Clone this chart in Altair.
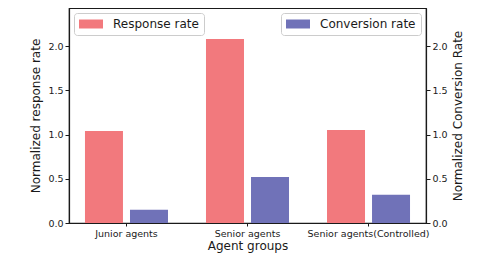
import altair as alt
import pandas as pd

groups = ["Junior agents", "Senior agents", "Senior agents(Controlled)"]
response_rate = [1.04, 2.08, 1.05]
conversion_rate = [0.15, 0.52, 0.32]
series = ["Response rate", "Conversion rate"]
colors = ["#F2797D", "#7072B8"]
y_ticks = [0.0, 0.5, 1.0, 1.5, 2.0]

df = pd.DataFrame({
    "group": groups * 2,
    "series": [series[0]] * 3 + [series[1]] * 3,
    "value": response_rate + conversion_rate,
})

FONT = "DejaVu Sans"
INK = "#1a1a1a"
RECT = "M-2,-0.75H2V0.75H-2Z"

x = alt.X("group:N", sort=groups,
          scale=alt.Scale(paddingInner=0.314, paddingOuter=0.132),
          axis=alt.Axis(title="Agent groups", labelAngle=0, tickSize=3,
                        labelPadding=2, titlePadding=3))
xoff = alt.XOffset("series:N",
                   scale=alt.Scale(domain=series, paddingInner=0.156, paddingOuter=0))


def layer(i, orient, legend_orient, title, baseline):
    return alt.Chart(df).transform_filter(
        alt.datum.series == series[i]
    ).mark_bar().encode(
        x=x,
        xOffset=xoff,
        y=alt.Y("value:Q",
                scale=alt.Scale(domain=[0, 2.43], nice=False, zero=True),
                axis=alt.Axis(title=title, orient=orient, values=y_ticks,
                              format=".1f", tickSize=4, labelPadding=2,
                              titlePadding=5, titleAngle=270,
                              titleBaseline=baseline)),
        color=alt.Color("series:N",
                        scale=alt.Scale(domain=[series[i]], range=[colors[i]]),
                        legend=alt.Legend(orient=legend_orient, title=None,
                                          symbolType=RECT, symbolSize=144,
                                          symbolOffset=6,
                                          labelFontSize=12, labelFont=FONT,
                                          labelColor=INK, labelOffset=16,
                                          padding=5, offset=5,
                                          strokeColor="#cccccc",
                                          fillColor="white",
                                          cornerRadius=3,
                                          symbolStrokeWidth=0,
                                          symbolOpacity=1)),
    )


left = layer(0, "left", "top-left", "Normalized response rate", "bottom")
right = layer(1, "right", "top-right", "Normalized Conversion Rate", "top")

chart = alt.layer(left, right).resolve_scale(
    y="independent", color="independent"
).resolve_legend(color="independent").properties(
    width=357, height=215, padding={"left": 21, "top": 0, "right": 5, "bottom": 5}
).configure_view(
    stroke=INK, strokeWidth=1.2
).configure_axis(
    grid=False, domainColor=INK, domainWidth=1.2, tickColor=INK,
    labelColor=INK, titleColor=INK, labelFont=FONT, titleFont=FONT,
    labelFontSize=9.5, titleFontSize=12, titleFontWeight="normal"
)

chart.save("out.html", embed_options={"renderer": "svg", "actions": False})
